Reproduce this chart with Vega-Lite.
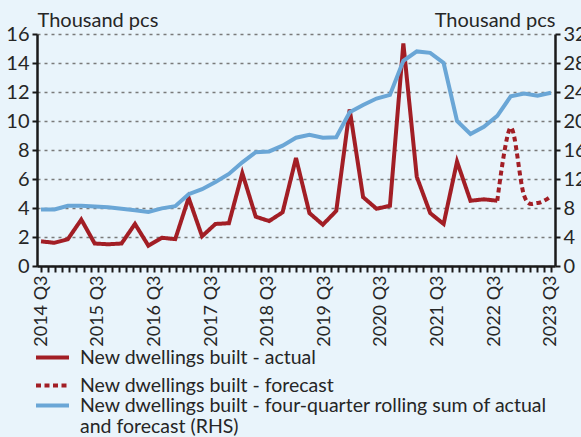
{
  "$schema": "https://vega.github.io/schema/vega-lite/v6.json",
  "autosize": {"type": "none"},
  "padding": {"left": 37, "top": 34, "right": 26, "bottom": 171},
  "width": 518,
  "height": 232,
  "background": "#E9F4FB",
  "config": {
    "view": {"stroke": null},
    "font": "Lato",
    "axis": {"labelFont": "Lato", "titleFont": "Lato", "labelColor": "#262626", "titleColor": "#262626", "labelFontSize": 20, "titleFontSize": 20, "titleFontWeight": "normal", "domainColor": "#1a1a1a", "domainWidth": 2.5, "tickColor": "#1a1a1a", "tickWidth": 2},
    "legend": {"labelFont": "Lato", "labelFontSize": 19.5, "labelColor": "#262626"}
  },
  "datasets": {
    "dw": [
      {"q": "2014 Q1", "i": 0, "series": "New dwellings built - actual", "v": 1.7},
      {"q": "2014 Q2", "i": 1, "series": "New dwellings built - actual", "v": 1.6},
      {"q": "2014 Q3", "i": 2, "series": "New dwellings built - actual", "v": 1.85},
      {"q": "2014 Q4", "i": 3, "series": "New dwellings built - actual", "v": 3.2},
      {"q": "2015 Q1", "i": 4, "series": "New dwellings built - actual", "v": 1.55},
      {"q": "2015 Q2", "i": 5, "series": "New dwellings built - actual", "v": 1.5},
      {"q": "2015 Q3", "i": 6, "series": "New dwellings built - actual", "v": 1.55},
      {"q": "2015 Q4", "i": 7, "series": "New dwellings built - actual", "v": 2.9},
      {"q": "2016 Q1", "i": 8, "series": "New dwellings built - actual", "v": 1.4},
      {"q": "2016 Q2", "i": 9, "series": "New dwellings built - actual", "v": 1.95},
      {"q": "2016 Q3", "i": 10, "series": "New dwellings built - actual", "v": 1.85},
      {"q": "2016 Q4", "i": 11, "series": "New dwellings built - actual", "v": 4.7},
      {"q": "2017 Q1", "i": 12, "series": "New dwellings built - actual", "v": 2.05},
      {"q": "2017 Q2", "i": 13, "series": "New dwellings built - actual", "v": 2.9},
      {"q": "2017 Q3", "i": 14, "series": "New dwellings built - actual", "v": 2.95},
      {"q": "2017 Q4", "i": 15, "series": "New dwellings built - actual", "v": 6.4},
      {"q": "2018 Q1", "i": 16, "series": "New dwellings built - actual", "v": 3.4},
      {"q": "2018 Q2", "i": 17, "series": "New dwellings built - actual", "v": 3.1},
      {"q": "2018 Q3", "i": 18, "series": "New dwellings built - actual", "v": 3.7},
      {"q": "2018 Q4", "i": 19, "series": "New dwellings built - actual", "v": 7.45},
      {"q": "2019 Q1", "i": 20, "series": "New dwellings built - actual", "v": 3.65},
      {"q": "2019 Q2", "i": 21, "series": "New dwellings built - actual", "v": 2.85},
      {"q": "2019 Q3", "i": 22, "series": "New dwellings built - actual", "v": 3.8},
      {"q": "2019 Q4", "i": 23, "series": "New dwellings built - actual", "v": 10.8},
      {"q": "2020 Q1", "i": 24, "series": "New dwellings built - actual", "v": 4.75},
      {"q": "2020 Q2", "i": 25, "series": "New dwellings built - actual", "v": 3.95},
      {"q": "2020 Q3", "i": 26, "series": "New dwellings built - actual", "v": 4.15},
      {"q": "2020 Q4", "i": 27, "series": "New dwellings built - actual", "v": 15.35},
      {"q": "2021 Q1", "i": 28, "series": "New dwellings built - actual", "v": 6.15},
      {"q": "2021 Q2", "i": 29, "series": "New dwellings built - actual", "v": 3.65},
      {"q": "2021 Q3", "i": 30, "series": "New dwellings built - actual", "v": 2.9},
      {"q": "2021 Q4", "i": 31, "series": "New dwellings built - actual", "v": 7.2},
      {"q": "2022 Q1", "i": 32, "series": "New dwellings built - actual", "v": 4.5},
      {"q": "2022 Q2", "i": 33, "series": "New dwellings built - actual", "v": 4.6},
      {"q": "2022 Q3", "i": 34, "series": "New dwellings built - actual", "v": 4.5},
      {"q": "2022 Q3", "i": 34, "series": "New dwellings built - forecast", "v": 4.5},
      {"q": "2022 Q4", "i": 35, "series": "New dwellings built - forecast", "v": 9.55},
      {"q": "2023 Q1", "i": 36, "series": "New dwellings built - forecast", "v": 4.85},
      {"q": "2023 Q2", "i": 37, "series": "New dwellings built - forecast", "v": 4.35},
      {"q": "2023 Q3", "i": 38, "series": "New dwellings built - forecast", "v": 4.8},
      {"q": "2014 Q1", "i": 0, "series": "New dwellings built - four-quarter rolling sum of actual and forecast (RHS)", "v": 7.8},
      {"q": "2014 Q2", "i": 1, "series": "New dwellings built - four-quarter rolling sum of actual and forecast (RHS)", "v": 7.8},
      {"q": "2014 Q3", "i": 2, "series": "New dwellings built - four-quarter rolling sum of actual and forecast (RHS)", "v": 8.3},
      {"q": "2014 Q4", "i": 3, "series": "New dwellings built - four-quarter rolling sum of actual and forecast (RHS)", "v": 8.3},
      {"q": "2015 Q1", "i": 4, "series": "New dwellings built - four-quarter rolling sum of actual and forecast (RHS)", "v": 8.2},
      {"q": "2015 Q2", "i": 5, "series": "New dwellings built - four-quarter rolling sum of actual and forecast (RHS)", "v": 8.1},
      {"q": "2015 Q3", "i": 6, "series": "New dwellings built - four-quarter rolling sum of actual and forecast (RHS)", "v": 7.9},
      {"q": "2015 Q4", "i": 7, "series": "New dwellings built - four-quarter rolling sum of actual and forecast (RHS)", "v": 7.7},
      {"q": "2016 Q1", "i": 8, "series": "New dwellings built - four-quarter rolling sum of actual and forecast (RHS)", "v": 7.45},
      {"q": "2016 Q2", "i": 9, "series": "New dwellings built - four-quarter rolling sum of actual and forecast (RHS)", "v": 7.95},
      {"q": "2016 Q3", "i": 10, "series": "New dwellings built - four-quarter rolling sum of actual and forecast (RHS)", "v": 8.25},
      {"q": "2016 Q4", "i": 11, "series": "New dwellings built - four-quarter rolling sum of actual and forecast (RHS)", "v": 9.9},
      {"q": "2017 Q1", "i": 12, "series": "New dwellings built - four-quarter rolling sum of actual and forecast (RHS)", "v": 10.6},
      {"q": "2017 Q2", "i": 13, "series": "New dwellings built - four-quarter rolling sum of actual and forecast (RHS)", "v": 11.6},
      {"q": "2017 Q3", "i": 14, "series": "New dwellings built - four-quarter rolling sum of actual and forecast (RHS)", "v": 12.7},
      {"q": "2017 Q4", "i": 15, "series": "New dwellings built - four-quarter rolling sum of actual and forecast (RHS)", "v": 14.3},
      {"q": "2018 Q1", "i": 16, "series": "New dwellings built - four-quarter rolling sum of actual and forecast (RHS)", "v": 15.7},
      {"q": "2018 Q2", "i": 17, "series": "New dwellings built - four-quarter rolling sum of actual and forecast (RHS)", "v": 15.8},
      {"q": "2018 Q3", "i": 18, "series": "New dwellings built - four-quarter rolling sum of actual and forecast (RHS)", "v": 16.6},
      {"q": "2018 Q4", "i": 19, "series": "New dwellings built - four-quarter rolling sum of actual and forecast (RHS)", "v": 17.7},
      {"q": "2019 Q1", "i": 20, "series": "New dwellings built - four-quarter rolling sum of actual and forecast (RHS)", "v": 18.1},
      {"q": "2019 Q2", "i": 21, "series": "New dwellings built - four-quarter rolling sum of actual and forecast (RHS)", "v": 17.7},
      {"q": "2019 Q3", "i": 22, "series": "New dwellings built - four-quarter rolling sum of actual and forecast (RHS)", "v": 17.75},
      {"q": "2019 Q4", "i": 23, "series": "New dwellings built - four-quarter rolling sum of actual and forecast (RHS)", "v": 21.2},
      {"q": "2020 Q1", "i": 24, "series": "New dwellings built - four-quarter rolling sum of actual and forecast (RHS)", "v": 22.2},
      {"q": "2020 Q2", "i": 25, "series": "New dwellings built - four-quarter rolling sum of actual and forecast (RHS)", "v": 23.1},
      {"q": "2020 Q3", "i": 26, "series": "New dwellings built - four-quarter rolling sum of actual and forecast (RHS)", "v": 23.6},
      {"q": "2020 Q4", "i": 27, "series": "New dwellings built - four-quarter rolling sum of actual and forecast (RHS)", "v": 28.3},
      {"q": "2021 Q1", "i": 28, "series": "New dwellings built - four-quarter rolling sum of actual and forecast (RHS)", "v": 29.6},
      {"q": "2021 Q2", "i": 29, "series": "New dwellings built - four-quarter rolling sum of actual and forecast (RHS)", "v": 29.4},
      {"q": "2021 Q3", "i": 30, "series": "New dwellings built - four-quarter rolling sum of actual and forecast (RHS)", "v": 28.0},
      {"q": "2021 Q4", "i": 31, "series": "New dwellings built - four-quarter rolling sum of actual and forecast (RHS)", "v": 20.0},
      {"q": "2022 Q1", "i": 32, "series": "New dwellings built - four-quarter rolling sum of actual and forecast (RHS)", "v": 18.2},
      {"q": "2022 Q2", "i": 33, "series": "New dwellings built - four-quarter rolling sum of actual and forecast (RHS)", "v": 19.2},
      {"q": "2022 Q3", "i": 34, "series": "New dwellings built - four-quarter rolling sum of actual and forecast (RHS)", "v": 20.7},
      {"q": "2022 Q4", "i": 35, "series": "New dwellings built - four-quarter rolling sum of actual and forecast (RHS)", "v": 23.4},
      {"q": "2023 Q1", "i": 36, "series": "New dwellings built - four-quarter rolling sum of actual and forecast (RHS)", "v": 23.8},
      {"q": "2023 Q2", "i": 37, "series": "New dwellings built - four-quarter rolling sum of actual and forecast (RHS)", "v": 23.5},
      {"q": "2023 Q3", "i": 38, "series": "New dwellings built - four-quarter rolling sum of actual and forecast (RHS)", "v": 23.9}
    ]
  },
  "data": {"name": "dw"},
  "encoding": {
    "x": {
      "field": "i", "type": "quantitative",
      "scale": {"domain": [-0.3, 38.3], "nice": false, "zero": false},
      "axis": {
        "title": null, "grid": false, "labelFontSize": 18,
        "values": [0, 0.5278, 1.0556, 1.5833, 2.1111, 2.6389, 3.1667, 3.6944, 4.2222, 4.75, 5.2778, 5.8056, 6.3333, 6.8611, 7.3889, 7.9167, 8.4444, 8.9722, 9.5, 10.0278, 10.5556, 11.0833, 11.6111, 12.1389, 12.6667, 13.1944, 13.7222, 14.25, 14.7778, 15.3056, 15.8333, 16.3611, 16.8889, 17.4167, 17.9444, 18.4722, 19, 19.5278, 20.0556, 20.5833, 21.1111, 21.6389, 22.1667, 22.6944, 23.2222, 23.75, 24.2778, 24.8056, 25.3333, 25.8611, 26.3889, 26.9167, 27.4444, 27.9722, 28.5, 29.0278, 29.5556, 30.0833, 30.6111, 31.1389, 31.6667, 32.1944, 32.7222, 33.25, 33.7778, 34.3056, 34.8333, 35.3611, 35.8889, 36.4167, 36.9444, 37.4722, 38],
        "labelExpr": "round(datum.value*72/38) % 8 == 0 ? (2014 + round(datum.value*72/38)/8) + ' Q3' : ''",
        "labelAngle": 270, "labelAlign": "right", "labelBaseline": "middle",
        "labelPadding": 3, "tickSize": 6, "labelOverlap": false, "labelFlush": false
      }
    }
  },
  "layer": [
    {
      "encoding": {
        "y": {
          "field": "v", "type": "quantitative",
          "scale": {"domain": [0, 16], "nice": false},
          "axis": {
            "orient": "left", "values": [0, 2, 4, 6, 8, 10, 12, 14, 16],
            "title": "Thousand pcs", "titleAngle": 0, "titleX": 0, "titleY": -8,
            "titleAlign": "left", "titleBaseline": "alphabetic",
            "grid": true, "gridDash": [3, 4], "gridColor": "#7a7a7a", "gridWidth": 1.3,
            "tickSize": 5, "labelPadding": 3
          }
        },
        "color": {
          "field": "series", "type": "nominal", "title": null,
          "scale": {
            "domain": ["New dwellings built - actual", "New dwellings built - forecast"],
            "range": ["#A21E25", "#A21E25"]
          },
          "legend": {
            "orient": "none", "legendX": -3, "legendY": 305, "direction": "vertical",
            "symbolType": "stroke", "symbolStrokeWidth": 4, "symbolSize": 1089,
            "labelOffset": 9, "rowPadding": -3, "padding": 0, "labelLimit": 600
          }
        },
        "strokeDash": {
          "field": "series", "type": "nominal", "title": null,
          "scale": {
            "domain": ["New dwellings built - actual", "New dwellings built - forecast"],
            "range": [[1, 0], [5, 3.5]]
          },
          "legend": {
            "orient": "none", "legendX": -3, "legendY": 305, "direction": "vertical",
            "symbolType": "stroke", "symbolStrokeWidth": 4, "symbolSize": 1089,
            "labelOffset": 9, "rowPadding": -3, "padding": 0, "labelLimit": 600
          }
        }
      },
      "layer": [
        {
          "transform": [{"filter": "datum.series == 'New dwellings built - actual'"}],
          "mark": {"type": "line", "strokeWidth": 4, "strokeJoin": "miter"}
        },
        {
          "transform": [{"filter": "datum.series == 'New dwellings built - forecast'"}],
          "mark": {"type": "line", "strokeWidth": 4, "interpolate": "cardinal"}
        }
      ]
    },
    {
      "transform": [{"filter": "datum.series == 'New dwellings built - four-quarter rolling sum of actual and forecast (RHS)'"}],
      "mark": {"type": "line", "strokeWidth": 4},
      "encoding": {
        "y": {
          "field": "v", "type": "quantitative",
          "scale": {"domain": [0, 32], "nice": false},
          "axis": {
            "orient": "right", "values": [0, 4, 8, 12, 16, 20, 24, 28, 32],
            "title": "Thousand pcs", "titleAngle": 0, "titleX": 0, "titleY": -8,
            "titleAlign": "right", "titleBaseline": "alphabetic",
            "grid": false, "tickSize": 5, "labelPadding": 3
          }
        },
        "color": {
          "field": "series", "type": "nominal", "title": null,
          "scale": {
            "domain": ["New dwellings built - four-quarter rolling sum of actual and forecast (RHS)"],
            "range": ["#6AA6D6"]
          },
          "legend": {
            "orient": "none", "legendX": -3, "legendY": 353, "direction": "vertical",
            "symbolType": "stroke", "symbolStrokeWidth": 4, "symbolSize": 1089,
            "labelOffset": 9, "padding": 0, "labelLimit": 600,
            "labelExpr": "datum.label == 'New dwellings built - four-quarter rolling sum of actual and forecast (RHS)' ? ['New dwellings built - four-quarter rolling sum of actual', 'and forecast (RHS)'] : datum.label"
          }
        }
      }
    }
  ],
  "resolve": {"scale": {"y": "independent", "color": "independent", "strokeDash": "independent"}}
}
